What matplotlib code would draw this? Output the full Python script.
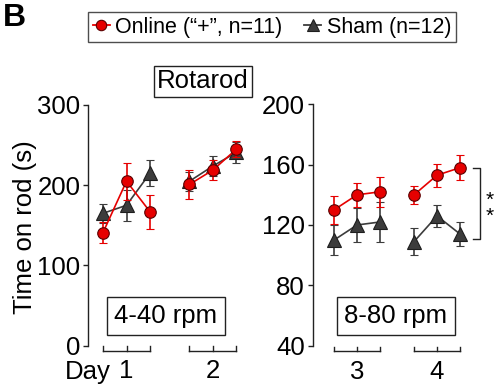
import matplotlib
matplotlib.use("Agg")
import matplotlib.pyplot as plt
from matplotlib.lines import Line2D
import matplotlib.transforms as mtransforms

plt.rcParams['font.family'] = ['Liberation Sans', 'DejaVu Sans']

# ---------------- data ----------------
days_left = ["1", "2"]
days_right = ["3", "4"]

online_d1 = [141, 205, 167]
online_d1_err = [13, 23, 21]
sham_d1 = [165, 175, 215]
sham_d1_err = [12, 19, 16]
online_d2 = [201, 219, 245]
online_d2_err = [18, 12, 10]
sham_d2 = [205, 224, 241]
sham_d2_err = [12, 13, 13]

online_d3 = [130, 140, 142]
online_d3_err = [9.5, 8, 10]
sham_d3 = [110, 120, 122]
sham_d3_err = [10, 11, 13.5]
online_d4 = [140, 153, 158]
online_d4_err = [6, 7.5, 8.5]
sham_d4 = [109, 126, 114]
sham_d4_err = [9, 7, 8]

left_yticks = [0, 100, 200, 300]
right_yticks = [40, 80, 120, 160, 200]

# ---------------- style ----------------
W, H = 495, 386
RED = '#e60000'
RED_EDGE = '#5a0000'
GRAY = '#3c3c3c'
GRAY_EDGE = '#1e1e1e'
FS = 18.5

def fx(px):
    return px / W

def fy(py):
    return 1 - py / H

fig = plt.figure(figsize=(W / 100, H / 100), dpi=100)

axL = fig.add_axes([fx(88), fy(345.7), (250 - 88) / W, (345.7 - 105) / H])
axR = fig.add_axes([fx(312.7), fy(345.7), (495 - 312.7) / W, (345.7 - 104.3) / H])

def draw_group(ax, xs, online, online_err, sham, sham_err):
    ax.errorbar(xs, sham, yerr=sham_err, color=GRAY, lw=1.2, elinewidth=1.2,
                capsize=2.6, capthick=1.2, marker='^', ms=9.5,
                mfc=GRAY, mec=GRAY_EDGE, mew=0.8, zorder=3, clip_on=False)
    ax.errorbar(xs, online, yerr=online_err, color=RED, lw=1.2, elinewidth=1.2,
                capsize=2.6, capthick=1.2, marker='o', ms=8.3,
                mfc=RED, mec=RED_EDGE, mew=0.8, zorder=4, clip_on=False)

# x positions (layout)
gL = [[0, 1, 2], [3.68, 4.68, 5.68]]
gR = [[0, 1, 2], [3.48, 4.48, 5.48]]

draw_group(axL, gL[0], online_d1, online_d1_err, sham_d1, sham_d1_err)
draw_group(axL, gL[1], online_d2, online_d2_err, sham_d2, sham_d2_err)
draw_group(axR, gR[0], online_d3, online_d3_err, sham_d3, sham_d3_err)
draw_group(axR, gR[1], online_d4, online_d4_err, sham_d4, sham_d4_err)

axL.set_xlim((88 - 103) / 23.5, (250 - 103) / 23.5)
axL.set_ylim(0, 300)
axR.set_xlim((312.7 - 334) / 23.0, (495 - 334) / 23.0)
axR.set_ylim(40, 200)

for ax, yt in ((axL, left_yticks), (axR, right_yticks)):
    for s in ('top', 'right', 'bottom'):
        ax.spines[s].set_visible(False)
    ax.spines['left'].set_linewidth(1.0)
    ax.spines['left'].set_color('#222222')
    ax.set_yticks(yt)
    ax.set_xticks([])
    ax.tick_params(axis='y', direction='out', length=3.5, width=1.0,
                   labelsize=FS, pad=2, color='#222222')
    ax.patch.set_visible(False)

def brackets(ax, groups, labels):
    tr = mtransforms.blended_transform_factory(ax.transData, ax.transAxes)
    hb = -(351 - 345.7) / 241
    ht = -(346.5 - 345.7) / 241
    for g, lab in zip(groups, labels):
        ax.plot([g[0], g[-1]], [hb, hb], color='#222222', lw=1.0,
                transform=tr, clip_on=False)
        for xv in g:
            ax.plot([xv, xv], [hb, ht], color='#222222', lw=1.0,
                    transform=tr, clip_on=False)
        ax.text(g[1], -(371.5 - 345.7) / 241, lab, transform=tr,
                ha='center', va='center', fontsize=FS)

brackets(axL, gL, days_left)
brackets(axR, gR, days_right)
fig.text(fx(87.5), fy(371.5), "Day", ha='center', va='center', fontsize=FS)

# significance bracket
xb = (480 - 334) / 23.0
xt = (473 - 334) / 23.0
axR.plot([xt, xb, xb, xt], [158, 158, 110.7, 110.7], color='#222222',
         lw=1.0, clip_on=False)
axR.text((490 - 334) / 23.0, 131, "*\n*", ha='center', va='center',
         fontsize=15, linespacing=0.75, clip_on=False)

# boxed labels
box = dict(boxstyle='square,pad=0.12', fc='white', ec='#222222', lw=1.0)
fig.text(fx(203), fy(81.5), "Rotarod", ha='center', va='center',
         fontsize=FS, bbox=box)
box2 = dict(boxstyle='square,pad=0.28', fc='white', ec='#222222', lw=1.0)
fig.text(fx(166), fy(316), "4-40 rpm", ha='center', va='center',
         fontsize=FS, bbox=box2)
fig.text(fx(396), fy(316), "8-80 rpm", ha='center', va='center',
         fontsize=FS, bbox=box2)

fig.text(fx(25), fy(227), "Time on rod (s)", rotation=90, ha='center',
         va='center', fontsize=FS)

fig.text(fx(3), fy(3), "B", ha='left', va='top', fontsize=23,
         fontweight='bold')

h_on = Line2D([], [], color=RED, lw=1.3, marker='o', ms=7.5, mfc=RED,
              mec=RED_EDGE, mew=0.8)
h_sh = Line2D([], [], color=GRAY, lw=1.3, marker='^', ms=8.5, mfc=GRAY,
              mec=GRAY_EDGE, mew=0.8)
leg = fig.legend([h_on, h_sh], ["Online (\u201c+\u201d, n=11)", "Sham (n=12)"],
                 ncol=2, loc='upper left', bbox_to_anchor=(fx(88), fy(12)),
                 borderaxespad=0, fontsize=15.5, frameon=True, fancybox=False,
                 handlelength=0.8, handletextpad=0.25, columnspacing=1.0,
                 borderpad=0.22)
leg.get_frame().set_edgecolor('#222222')
leg.get_frame().set_linewidth(1.0)

fig.savefig("out.png", dpi=100)
